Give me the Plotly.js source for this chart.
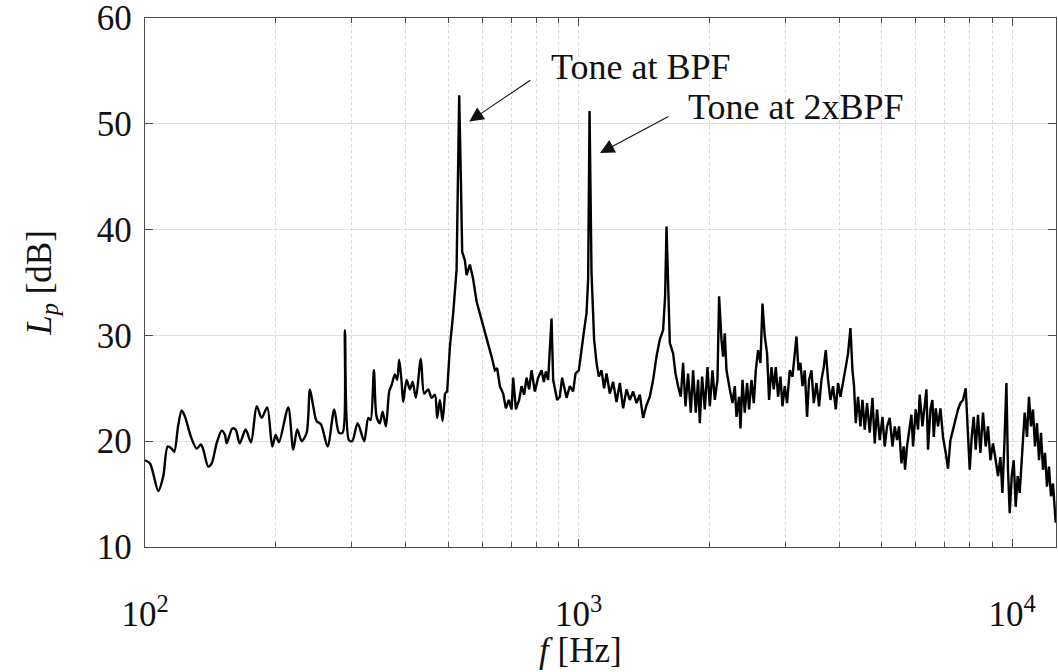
<!DOCTYPE html>
<html>
<head>
<meta charset="utf-8">
<script src="https://cdn.plot.ly/plotly-3.0.1.min.js"></script>
<style>html,body{margin:0;padding:0;background:#fff;}#chart{width:1058px;height:672px;}</style>
</head>
<body>
<div id="chart"></div>
<script>
// Low-frequency part of the spectrum (smooth broadband), frequency [Hz] and Lp [dB]
const lowFreqHz = [
  100, 102.7, 107.3, 110.2, 112.8, 115.2, 116.8, 119.3, 121.5, 123.7,
  127.7, 131.6, 134.6, 136.3, 139.9, 142.5, 146.3, 150.3, 152.9, 154.3,
  159.0, 161.9, 165.3, 170.7, 175.6, 181.0, 185.8, 191.4, 196.6, 200.2,
  203.7, 214.0, 219.8, 224.5, 229.8, 236.0, 240.1, 244.4, 248.8, 254.6,
  263.8, 273.2, 280.1, 285.7, 289.2, 295.4, 300.6, 309.3, 320.4, 327.3,
  331.4, 337.3, 342.2, 348.2, 353.3, 359.5, 365.9, 370.6, 377.1, 381.7,
  385.8, 390.8, 394.1, 401.3, 408.4, 414.3, 421.6, 432.9, 440.6, 450.1,
  458.2, 466.4, 472.1, 478.9, 485.8, 491.8
];
const lowLevelDb = [
  18.2, 17.9, 15.3, 16.7, 19.5, 19.3, 19.0, 21.5, 22.9, 22.3,
  20.4, 19.3, 19.7, 19.2, 17.6, 17.9, 19.8, 21.0, 20.6, 19.8,
  21.2, 21.1, 19.8, 21.1, 19.9, 23.3, 22.2, 23.2, 19.5, 20.6,
  19.9, 23.2, 19.2, 21.1, 20.0, 20.8, 24.9, 23.3, 21.9, 21.6,
  19.5, 23.0, 20.8, 20.8, 30.5, 20.1, 20.0, 21.7, 20.0, 22.2,
  22.0, 26.7, 22.3, 21.7, 22.8, 21.4, 24.7, 25.3, 26.3, 25.8,
  27.7, 25.6, 23.7, 25.8, 24.9, 25.6, 24.1, 27.8, 24.5, 24.9,
  24.1, 24.4, 22.2, 23.9, 21.9, 24.5
];

// Tonal / noisy part of the spectrum, frequency [Hz] and Lp [dB]
const highFreqHz = [
  491.8, 497.8, 505.0, 514.0, 523.3,
  527.8, 530.6, 535.4, 539.1, 546.9, 551.8, 561.6, 571.5, 582.0, 592.2,
  602.7, 613.7, 622.2, 630.2, 641.3, 649.2, 658.6, 670.2, 679.9, 690.8,
  700.8, 706.8, 717.0, 729.6, 739.0, 749.2, 758.9, 769.4, 779.3, 793.1,
  807.1, 821.8, 831.9, 840.8, 851.1, 866.6, 874.0, 892.8, 905.6, 916.7,
  938.5, 955.0, 971.9, 984.3, 1001.8, 1016.2, 1030.3, 1043.6, 1052.5, 1060.4,
  1071.6, 1086.5, 1100.5, 1114.0, 1130.1, 1145.8, 1160.6, 1181.0, 1201.9, 1223.8,
  1245.4, 1267.5, 1290.5, 1313.3, 1336.6, 1361.0, 1385.0, 1409.5, 1435.1, 1460.5,
  1486.3, 1513.4, 1540.2, 1567.4, 1584.1, 1596.0, 1609.6, 1624.2, 1652.9, 1674.0,
  1697.3, 1721.8, 1743.0, 1765.3, 1789.9, 1815.8, 1838.1, 1864.6, 1887.5, 1904.6,
  1928.0, 1955.8, 1984.0, 2008.4, 2037.6, 2062.5, 2092.2, 2110.1, 2137.2, 2155.5,
  2175.0, 2194.8, 2233.5, 2265.9, 2293.6, 2314.5, 2346.6, 2364.0, 2389.5, 2418.7,
  2448.5, 2474.6, 2506.3, 2537.1, 2564.2, 2595.7, 2628.9, 2657.2, 2689.7, 2722.8,
  2751.8, 2787.1, 2821.4, 2851.5, 2886.6, 2923.5, 2954.9, 2991.1, 3027.9, 3071.6,
  3116.1, 3154.2, 3182.9, 3217.0, 3251.0, 3286.0, 3326.2, 3367.1, 3403.0, 3446.6,
  3489.0, 3539.5, 3588.6, 3634.6, 3679.3, 3718.6, 3764.4, 3812.5, 3865.7, 3921.4,
  3969.6, 4020.3, 4076.5, 4135.2, 4186.1, 4239.6, 4285.2, 4321.4, 4360.7, 4414.4,
  4470.8, 4518.9, 4574.2, 4630.5, 4697.3, 4765.4, 4823.6, 4882.9, 4953.4, 5025.2,
  5086.7, 5149.3, 5223.6, 5299.3, 5364.1, 5430.1, 5488.0, 5558.3, 5626.7, 5665.6,
  5726.2, 5787.3, 5861.4, 5911.7, 5996.9, 6070.7, 6125.6, 6214.4, 6290.4, 6347.6,
  6401.7, 6483.5, 6553.3, 6598.4, 6668.8, 6750.8, 6837.0, 6932.6, 7032.5, 7119.0,
  7210.0, 7310.7, 7415.9, 7507.2, 7603.1, 7709.3, 7820.4, 7903.8, 7988.2, 8073.6,
  8159.8, 8246.8, 8348.3, 8454.9, 8573.1, 8696.6, 8803.6, 8916.1, 9040.6, 9170.8,
  9283.7, 9402.3, 9503.5, 9604.8, 9707.2, 9790.0, 9878.6, 9984.1, 10091, 10198,
  10307, 10417, 10568, 10697, 10829, 10944, 11061, 11179, 11299, 11420,
  11542, 11665, 11790, 11915, 12042, 12171, 12300, 12432, 12612
];
const highLevelDb = [
  24.5, 24.7, 28.9, 32.1, 36.2,
  44.7, 52.7, 44.7, 37.9, 37.1, 35.7, 36.7, 35.3, 33.2, 32.1,
  30.8, 29.9, 28.9, 28.0, 26.7, 26.9, 25.2, 24.5, 23.1, 23.9,
  23.0, 26.0, 23.0, 23.9, 25.2, 24.4, 26.0, 24.9, 26.7, 24.7,
  26.0, 26.7, 25.6, 26.6, 25.8, 31.6, 25.8, 23.9, 24.2, 26.0,
  24.1, 25.2, 24.7, 26.4, 26.7, 28.9, 30.5, 32.1, 35.3, 51.2,
  35.9, 29.6, 27.4, 26.1, 26.7, 25.0, 26.4, 24.5, 25.6, 23.7,
  25.5, 23.1, 24.9, 23.9, 24.7, 23.6, 24.4, 22.2, 23.4, 24.2,
  25.8, 28.0, 29.6, 30.5, 33.7, 40.3, 34.0, 29.3, 28.3, 26.4,
  25.2, 24.2, 27.4, 23.3, 26.4, 22.7, 26.7, 22.7, 25.8, 21.7,
  26.1, 23.0, 27.0, 23.3, 26.7, 23.9, 25.8, 33.7, 29.6, 28.0,
  30.2, 26.7, 24.9, 23.6, 25.2, 22.3, 24.2, 21.2, 25.8, 22.7,
  25.5, 23.0, 25.8, 23.6, 26.7, 28.6, 27.4, 33.0, 29.9, 28.3,
  23.9, 27.0, 24.9, 27.0, 24.2, 26.1, 23.3, 25.2, 23.6, 26.7,
  26.1, 28.0, 29.9, 26.7, 27.4, 25.2, 26.7, 22.3, 25.8, 26.7,
  23.6, 25.5, 23.3, 25.8, 27.0, 28.6, 25.8, 23.9, 25.2, 23.0,
  25.5, 24.2, 25.8, 27.0, 28.3, 30.7, 26.7, 25.2, 21.7, 24.2,
  21.4, 23.9, 21.1, 23.6, 20.8, 24.1, 19.8, 23.0, 20.1, 22.3,
  19.5, 21.4, 22.2, 19.5, 21.4, 20.1, 21.4, 17.9, 19.5, 17.3,
  19.5, 21.1, 22.5, 19.5, 23.0, 21.1, 24.4, 21.4, 23.3, 24.9,
  19.2, 23.0, 23.9, 20.4, 23.1, 21.4, 23.1, 20.4, 18.9, 17.4,
  20.1, 21.1, 22.2, 23.0, 23.6, 23.9, 25.0, 21.4, 17.3, 20.4,
  22.3, 19.2, 22.5, 18.9, 22.7, 19.5, 21.4, 18.2, 19.8, 18.2,
  16.7, 18.5, 15.1, 19.8, 25.5, 17.3, 13.2, 16.7, 18.2, 13.8,
  16.7, 15.1, 19.5, 22.7, 20.4, 24.2, 21.4, 23.0, 19.5, 21.7,
  18.2, 20.8, 17.3, 18.9, 15.7, 17.6, 14.8, 16.0, 12.3
];

// Axis ticks
const xTickVals = [100, 1000, 10000];
const xTickText = ['10<sup>2</sup>', '10<sup>3</sup>', '10<sup>4</sup>'];
const xMinorVals = [200, 300, 400, 500, 600, 700, 800, 900,
                    2000, 3000, 4000, 5000, 6000, 7000, 8000, 9000];
const yTickVals = [10, 20, 30, 40, 50, 60];

const serif = '"Liberation Serif", "Times New Roman", "DejaVu Serif", serif';
const axisColor = '#4d4d4d';
const textColor = '#111111';

const traces = [
  {
    x: lowFreqHz, y: lowLevelDb, type: 'scatter', mode: 'lines',
    line: {color: '#000000', width: 2.4, shape: 'spline', smoothing: 0.8},
    hoverinfo: 'x+y'
  },
  {
    x: highFreqHz, y: highLevelDb, type: 'scatter', mode: 'lines',
    line: {color: '#000000', width: 2.4},
    hoverinfo: 'x+y'
  }
];

const layout = {
  width: 1058,
  height: 672,
  margin: {l: 145, r: 2, t: 18, b: 125, pad: 0},
  paper_bgcolor: '#ffffff',
  plot_bgcolor: '#ffffff',
  showlegend: false,
  font: {family: serif, size: 35, color: textColor},
  xaxis: {
    type: 'log',
    range: [2, 4.1015],
    tickmode: 'array',
    tickvals: xTickVals,
    ticktext: xTickText,
    ticks: 'inside',
    ticklen: 8,
    tickwidth: 1,
    tickcolor: axisColor,
    showline: true,
    linecolor: axisColor,
    linewidth: 1.3,
    mirror: 'ticks',
    showgrid: true,
    gridcolor: '#d6d6d6',
    griddash: 'dot',
    gridwidth: 1,
    zeroline: false,
    tickfont: {family: serif, size: 35, color: textColor},
    ticklabelstandoff: 36,
    ticklabeloverflow: 'allow',
    minor: {
      tickmode: 'array',
      tickvals: xMinorVals,
      ticks: 'inside',
      ticklen: 5,
      tickcolor: axisColor,
      showgrid: true,
      gridcolor: '#d6d6d6',
      griddash: 'dot',
      gridwidth: 1
    }
  },
  yaxis: {
    range: [10, 60],
    tickmode: 'array',
    tickvals: yTickVals,
    ticks: 'inside',
    ticklen: 8,
    tickwidth: 1,
    tickcolor: axisColor,
    showline: true,
    linecolor: axisColor,
    linewidth: 1.3,
    mirror: 'ticks',
    showgrid: true,
    gridcolor: '#e2e2e2',
    gridwidth: 1,
    zeroline: false,
    tickfont: {family: serif, size: 35, color: textColor},
    ticklabelstandoff: 5,
    ticklabeloverflow: 'allow',
    title: {
      text: '<i>L</i><sub><i>p</i></sub> [dB]',
      font: {family: serif, size: 35, color: textColor},
      standoff: 34
    }
  },
  annotations: [
    {
      // x-axis title, placed under the 10^3 label as in the reference
      xref: 'paper', yref: 'paper', x: 0.4775, y: -0.2357,
      xanchor: 'center', yanchor: 'bottom', showarrow: false,
      text: '<i>f</i> [Hz]',
      font: {family: serif, size: 35, color: textColor}
    },
    {
      xref: 'paper', yref: 'paper', x: 0.356, y: 0.8045,
      axref: 'pixel', ayref: 'pixel', ax: 80, ay: -54,
      xanchor: 'left', yanchor: 'middle',
      text: 'Tone at BPF',
      font: {family: serif, size: 36, color: textColor},
      showarrow: true, arrowhead: 2, arrowsize: 2.6, arrowwidth: 1.1,
      arrowcolor: textColor, standoff: 0, startstandoff: 23
    },
    {
      xref: 'paper', yref: 'paper', x: 0.4995, y: 0.7448,
      axref: 'pixel', ayref: 'pixel', ax: 86, ay: -46,
      xanchor: 'left', yanchor: 'middle',
      text: 'Tone at 2xBPF',
      font: {family: serif, size: 36, color: textColor},
      showarrow: true, arrowhead: 2, arrowsize: 2.6, arrowwidth: 1.1,
      arrowcolor: textColor, standoff: 0, startstandoff: 20
    }
  ]
};

Plotly.newPlot('chart', traces, layout, {displayModeBar: false, staticPlot: true});
</script>
</body>
</html>
